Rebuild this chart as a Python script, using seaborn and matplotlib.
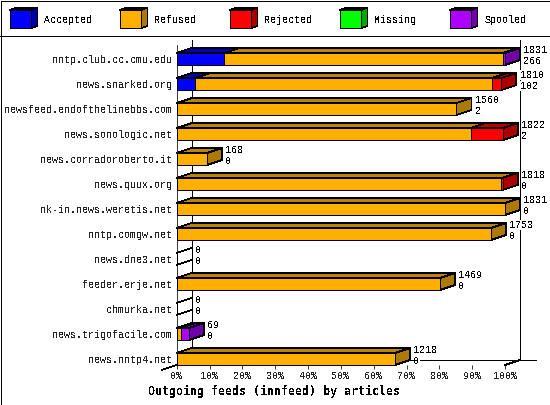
import matplotlib
matplotlib.use("Agg")
import matplotlib.pyplot as plt
from matplotlib.lines import Line2D
from matplotlib.patches import Polygon, Rectangle
import numpy as np
import pandas as pd
import seaborn as sns

hosts = ["nntp.club.cc.cmu.edu", "news.snarked.org", "newsfeed.endofthelinebbs.com",
         "news.sonologic.net", "news.corradoroberto.it", "news.quux.org",
         "nk-in.news.weretis.net", "nntp.comgw.net", "news.dne3.net",
         "feeder.erje.net", "chmurka.net", "news.trigofacile.com", "news.nntp4.net"]
# Percent of the largest offered total
accepted = [14.5, 5.6, 0.1, 0.1, 0, 0, 0, 0, 0, 0, 0, 0, 0]
refused = [84.8, 90.4, 85.1, 89.4, 9.2, 98.9, 100.0, 95.7, 0, 80.2, 0, 1.2, 66.5]
rejected = [0, 2.85, 0, 9.9, 0, 0.4, 0, 0, 0, 0, 0, 0, 0]
missing = [0, 0, 0, 0, 0, 0, 0, 0, 0, 0, 0, 0, 0]
spooled = [0.7, 0, 0, 0, 0, 0, 0, 0, 0, 0, 0, 2.57, 0]
offered_labels = [1831, 1810, 1560, 1822, 168, 1818, 1831, 1753, 0, 1469, 0, 69, 1218]
accepted_labels = [266, 102, 2, 2, 0, 0, 0, 0, 0, 0, 0, 0, 0]
series_names = ["Accepted", "Refused", "Rejected", "Missing", "Spooled"]
front_colors = ["#0000FF", "#FFAF00", "#FF0000", "#00FF00", "#AF00FF"]
top_colors = ["#0000B4", "#B98500", "#B40000", "#00B400", "#7A00B0"]
side_colors = ["#0000AA", "#AD7A00", "#AA0000", "#00AA00", "#7000A8"]
percent_ticks = list(range(0, 101, 10))
title = "Outgoing feeds (innfeed) by articles"

W, H = 550, 405
sns.set_theme(style="white")
plt.rcParams["font.family"] = ["Liberation Mono", "DejaVu Sans Mono"]
plt.rcParams["text.antialiased"] = False
plt.rcParams["text.color"] = "black"
FS = 7.2
LW = 0.55

fig = plt.figure(figsize=(W / 100, H / 100), dpi=100, facecolor="white")
X0, X1, Y0, Y1 = 176.7, 505.0, 36.0, 365.0
ax = fig.add_axes([X0 / W, 1 - Y1 / H, (X1 - X0) / W, (Y1 - Y0) / H])
ax.patch.set_alpha(0)

series = np.array([accepted, refused, rejected, missing, spooled], dtype=float)
cum = np.cumsum(series, axis=0)
n = len(hosts)
frame = pd.DataFrame({"host": hosts})
DX, DY = 15 / 328.3 * 100, -5 / 25
BAR = 12 / 25

# Walls first, bars over them
wall_kw = dict(color="black", lw=LW, clip_on=False, zorder=1, antialiased=False)
ax.plot([DX, DX], [-0.76, 12.04], **wall_kw)
ax.plot([100 + DX, 100 + DX], [-0.76, 12.04], **wall_kw)
ax.plot([DX, 109.5], [12.04, 12.04], **wall_kw)
ax.plot([100, 100 + DX], [12.24, 12.04], **wall_kw)
ax.plot([-DX, 0], [12.44, 12.24], **wall_kw)

# Layered front faces, the longest stack first
for k in range(len(series_names) - 1, -1, -1):
    frame["value"] = cum[k]
    sns.barplot(data=frame, y="host", x="value", orient="h", color=front_colors[k],
                saturation=1, width=BAR, edgecolor="black", linewidth=LW, ax=ax,
                zorder=3, clip_on=False, antialiased=False)


def face(points, color):
    ax.add_patch(Polygon(points, closed=True, facecolor=color, edgecolor="black",
                         lw=LW, clip_on=False, zorder=2.5, antialiased=False))


for i in range(n):
    top, bot = i - BAR / 2, i + BAR / 2
    start = 0.0
    last = 1
    for k in range(len(series_names)):
        end = cum[k, i]
        if series[k, i] > 0:
            last = k
            face([(start, top), (end, top), (end + DX, top + DY), (start + DX, top + DY)],
                 top_colors[k])
            start = end
    if cum[-1, i] == 0:
        ax.plot([0, DX], [top, top + DY], **wall_kw)
        ax.plot([0, DX], [bot, bot + DY], **wall_kw)
    else:
        face([(start, top), (start + DX, top + DY), (start + DX, bot + DY), (start, bot)],
             side_colors[last])
    for text, off in ((offered_labels[i], 6.5), (accepted_labels[i], -1.4)):
        ax.annotate(str(text), (start + DX, i), xytext=(2.6, off), textcoords="offset points",
                    ha="left", va="center", fontsize=FS, zorder=5, annotation_clip=False,
                    bbox=dict(facecolor="white", edgecolor="none", pad=0))

ax.set_xlim(0, 100)
ax.set_ylim(12.24, -0.92)
ax.set_xlabel("")
ax.set_ylabel("")
ax.set_xticks(percent_ticks, [f"{p}%" for p in percent_ticks])
ax.tick_params(axis="x", length=3, width=LW, pad=1.2, labelsize=FS, color="black", bottom=True)
ax.tick_params(axis="y", length=0, pad=3.4, labelsize=FS)
for side in ("top", "right", "bottom"):
    ax.spines[side].set_visible(False)
ax.spines["left"].set_bounds(-0.56, 12.24)
ax.spines["left"].set_linewidth(LW)
ax.spines["left"].set_color("black")
ax.spines["left"].set_zorder(4)

fig.text(274.5 / W, 1 - 391.5 / H, title, ha="center", va="center", fontsize=8.4,
         fontweight="bold", family="DejaVu Sans Mono")


def fx(p):
    return p / W


def fy(p):
    return 1 - p / H


# Legend
for j, name in enumerate(series_names):
    x = 10 + 110 * j
    l, r, t, b, dx, dy = x, x + 21, 10, 28.3, 6.5, 2.3
    for pts, col in (
        ([(l, t), (r, t), (r + dx, t - dy), (l + dx, t - dy)], top_colors[j]),
        ([(r, t), (r + dx, t - dy), (r + dx, b - dy), (r, b)], side_colors[j]),
        ([(l, t), (r, t), (r, b), (l, b)], front_colors[j]),
    ):
        fig.add_artist(Polygon([(fx(a), fy(c)) for a, c in pts], closed=True,
                               transform=fig.transFigure, facecolor=col, edgecolor="black",
                               lw=LW, antialiased=False))
    fig.text(fx(x + 34.5), fy(20), name, ha="left", va="center", fontsize=FS)

# Frame and header rule
fig.add_artist(Line2D([0, 1], [fy(35.5)] * 2, transform=fig.transFigure, color="black",
                      lw=LW, antialiased=False))
fig.add_artist(Rectangle((0.5 / W, 0.5 / H), 1 - 1 / W, 1 - 1 / H, transform=fig.transFigure,
                         fill=False, edgecolor="black", lw=LW, antialiased=False))
fig.savefig("out.png", dpi=100)
